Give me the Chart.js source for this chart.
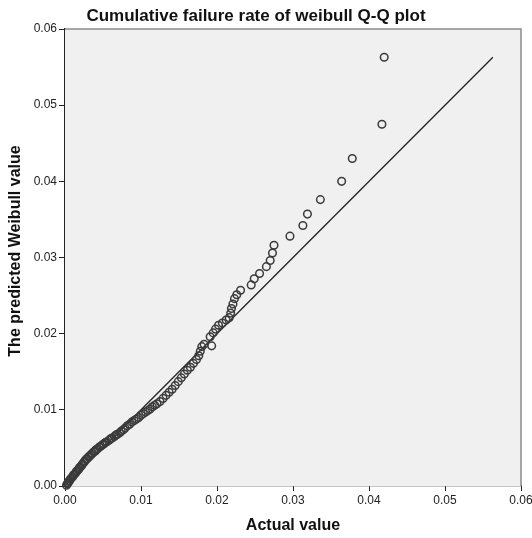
<!DOCTYPE html>
<html>
<head>
<meta charset="utf-8">
<script src="https://cdn.jsdelivr.net/npm/chart.js@4.4.1/dist/chart.umd.min.js"></script>
<style>
  html, body { margin: 0; padding: 0; background: #fff; }
  #wrap { width: 532px; height: 538px; }
</style>
</head>
<body>
<div id="wrap"><canvas id="chart" width="532" height="538"></canvas></div>
<script>
/* ---------- DATA ---------- */

const actualValues = [
  0.0002, 0.0003, 0.0004, 0.0005, 0.0006, 0.0007, 0.0008, 0.0010, 0.0011, 0.0012,
  0.0014, 0.0015, 0.0016, 0.0018, 0.0019, 0.0020, 0.0022, 0.0023, 0.0025, 0.0026,
  0.0028, 0.0029, 0.0031, 0.0032, 0.0034, 0.0036, 0.0038, 0.0040, 0.0041, 0.0043,
  0.0045, 0.0047, 0.0049, 0.0051, 0.0053, 0.0055, 0.0058, 0.0060, 0.0062, 0.0065,
  0.0067, 0.0069, 0.0072, 0.0074, 0.0077, 0.0079,
  0.0082, 0.0085, 0.0088, 0.0091, 0.0094, 0.0097, 0.0100, 0.0103, 0.0106, 0.0109,
  0.0112, 0.0115, 0.0118, 0.0121, 0.0125, 0.0129, 0.0133, 0.0137, 0.0141, 0.0145,
  0.0149, 0.0153, 0.0157, 0.0161, 0.0165, 0.0169, 0.0173, 0.0176, 0.0178, 0.0180,
  0.0183, 0.0193, 0.0191, 0.0195, 0.0198, 0.0202, 0.0207, 0.0212, 0.0216, 0.0218,
  0.0219, 0.0221, 0.0223, 0.0226, 0.0231, 0.0245, 0.0249, 0.0256, 0.0265, 0.0270,
  0.0273, 0.0275, 0.0296, 0.0313, 0.0319, 0.0336, 0.0364, 0.0378, 0.0417, 0.0420
];

const predictedValues = [
  0.0001, 0.0003, 0.0004, 0.0006, 0.0007, 0.0009, 0.0010, 0.0012, 0.0014, 0.0015,
  0.0017, 0.0019, 0.0020, 0.0022, 0.0024, 0.0025, 0.0027, 0.0029, 0.0031, 0.0033,
  0.0035, 0.0036, 0.0038, 0.0039, 0.0041, 0.0043, 0.0045, 0.0046, 0.0048, 0.0049,
  0.0051, 0.0052, 0.0054, 0.0055, 0.0057, 0.0058, 0.0060, 0.0062, 0.0063, 0.0065,
  0.0067, 0.0068, 0.0070, 0.0072, 0.0074, 0.0076,
  0.0079, 0.0081, 0.0084, 0.0086, 0.0088, 0.0090, 0.0093, 0.0095, 0.0097, 0.0099,
  0.0101, 0.0104, 0.0106, 0.0108, 0.0111, 0.0115, 0.0119, 0.0123, 0.0127, 0.0132,
  0.0137, 0.0142, 0.0147, 0.0152, 0.0156, 0.0161, 0.0166, 0.0171, 0.0177, 0.0183,
  0.0186, 0.0184, 0.0196, 0.0201, 0.0206, 0.0211, 0.0214, 0.0218, 0.0221, 0.0227,
  0.0233, 0.0239, 0.0246, 0.0251, 0.0257, 0.0264, 0.0272, 0.0279, 0.0288, 0.0296,
  0.0306, 0.0316, 0.0328, 0.0342, 0.0357, 0.0376, 0.0400, 0.0430, 0.0475, 0.0563
];

// reference line y = x
const refLineX = [0, 0.0563];
const refLineY = [0, 0.0563];

const axisMin = 0;
const axisMax = 0.06;
const axisStep = 0.01;

const titleText = "Cumulative failure rate of weibull Q-Q plot";
const xTitleText = "Actual value";
const yTitleText = "The predicted Weibull value";

/* ---------- PLUGINS ---------- */

const plotFrame = {
  id: "plotFrame",
  beforeDatasetsDraw(chart) {
    const { ctx, chartArea: a } = chart;
    ctx.save();
    ctx.fillStyle = "#f0f0f0";
    ctx.fillRect(a.left, a.top, a.right - a.left, a.bottom - a.top);
    ctx.restore();
  },
  afterDraw(chart) {
    const { ctx, chartArea: a } = chart;
    ctx.save();
    ctx.strokeStyle = "#8a8a8a";
    ctx.lineWidth = 1.5;
    ctx.beginPath();
    ctx.moveTo(a.left, a.top);
    ctx.lineTo(a.right, a.top);
    ctx.lineTo(a.right, a.bottom);
    ctx.stroke();

    ctx.fillStyle = "#111";
    ctx.textAlign = "center";
    ctx.textBaseline = "middle";
    ctx.font = "bold 17px 'Liberation Sans', Arial, sans-serif";
    ctx.fillText(titleText, 256, 16);

    ctx.font = "bold 16px 'Liberation Sans', Arial, sans-serif";
    ctx.fillText(xTitleText, 293, 526);

    ctx.translate(16, 251);
    ctx.rotate(-Math.PI / 2);
    ctx.fillText(yTitleText, 0, 0);
    ctx.restore();
  }
};

/* ---------- CHART ---------- */

const points = actualValues.map((x, i) => ({ x, y: predictedValues[i] }));
const refLine = refLineX.map((x, i) => ({ x, y: refLineY[i] }));

const tickFont = { family: "'Liberation Sans', Arial, sans-serif", size: 12 };

new Chart(document.getElementById("chart"), {
  type: "scatter",
  data: {
    datasets: [
      {
        label: "Observed",
        data: points,
        pointStyle: "circle",
        pointRadius: 3.8,
        pointBorderWidth: 1.5,
        pointBackgroundColor: "rgba(0,0,0,0)",
        pointBorderColor: "#3a3a3a",
        clip: false
      },
      {
        type: "line",
        label: "Reference",
        data: refLine,
        borderColor: "#222",
        borderWidth: 1.3,
        pointRadius: 0,
        fill: false
      }
    ]
  },
  options: {
    responsive: false,
    animation: false,
    layout: { padding: { top: 29, right: 11, left: 0, bottom: 0 } },
    plugins: {
      legend: { display: false },
      tooltip: { enabled: false }
    },
    scales: {
      x: {
        type: "linear",
        min: axisMin,
        max: axisMax,
        ticks: {
          stepSize: axisStep,
          autoSkip: false,
          maxRotation: 0,
          padding: 2,
          color: "#222",
          font: tickFont,
          callback: v => v.toFixed(2)
        },
        grid: { drawOnChartArea: false, tickLength: 5, color: "#222" },
        border: { color: "#222", width: 1.2 },
        afterFit(s) {
          s.height = 52;
          s.paddingLeft = 0;
          s.paddingRight = 0;
        }
      },
      y: {
        type: "linear",
        min: axisMin,
        max: axisMax,
        ticks: {
          stepSize: axisStep,
          autoSkip: false,
          padding: 2,
          color: "#222",
          font: tickFont,
          callback: v => v.toFixed(2)
        },
        grid: { drawOnChartArea: false, tickLength: 6, color: "#222" },
        border: { color: "#222", width: 1.2 },
        afterFit(s) {
          s.width = 65;
          s.paddingTop = 0;
          s.paddingBottom = 0;
        }
      }
    }
  },
  plugins: [plotFrame]
});
</script>
</body>
</html>
